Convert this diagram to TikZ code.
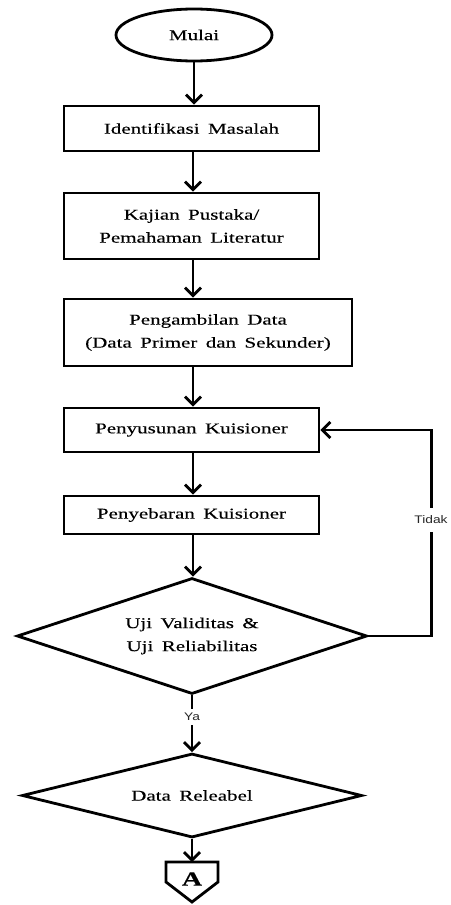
\documentclass[tikz,border=0pt]{standalone}
\usepackage{fontspec}
\setmainfont{Liberation Serif}[FakeStretch=1.4,WordSpace=1.6,FakeBold=0.3]
\newfontfamily\labelfont{Liberation Sans}[FakeStretch=1.25]
\usetikzlibrary{shapes.geometric,arrows.meta}
\begin{document}
\begin{tikzpicture}[x=1pt,y=-1pt,
  every node/.style={inner sep=0pt, font=\fontsize{15}{23}\selectfont, align=center},
  box/.style={draw, line width=2.8pt, rectangle},
  term/.style={draw, line width=2.8pt, ellipse},
  dec/.style={draw, line width=2.8pt, diamond},
  arr/.style={line width=2.8pt, -{Straight Barb[length=8pt,width=16pt,line width=2.8pt]}},
  lbl/.style={fill=white, font=\labelfont\fontsize{11}{13}\selectfont, text=black!85}
]
\useasboundingbox (0,0) rectangle (450,905);
\node[term, minimum width=156, minimum height=52] (mulai) at (194,35) {Mulai};
\node[box, minimum width=255, minimum height=45] (idm) at (191.5,128.5) {Identifikasi Masalah};
\node[box, minimum width=255, minimum height=66] (kaj) at (191.5,226) {Kajian Pustaka/\\Pemahaman Literatur};
\node[box, minimum width=288, minimum height=67] (peng) at (208,332.5) {Pengambilan Data\\(Data Primer dan Sekunder)};
\node[box, minimum width=255, minimum height=44] (pys) at (191.5,430) {Penyusunan Kuisioner};
\node[box, minimum width=255, minimum height=38] (pyb) at (191.5,515) {Penyebaran Kuisioner};
\node[dec, aspect=3.0, minimum width=350, minimum height=116] (uji) at (192,636) {Uji Validitas \&\\Uji Reliabilitas};
\node[dec, aspect=4.0, minimum width=340, minimum height=84] (rel) at (192,795.5) {Data Releabel};
\node[font=\bfseries\fontsize{20}{22}\selectfont] (A) at (192,879) {A};
\coordinate (Atop) at (192,862);
\draw[line width=2.8pt, line join=miter] (166,862) -- (218,862) -- (218,882) -- (192,902) -- (166,882) -- cycle;

\draw[arr] (mulai.south) -- (idm.north -| mulai.south);
\draw[arr] (idm.south -| 193,0) -- (kaj.north -| 193,0);
\draw[arr] (kaj.south -| 193,0) -- (peng.north -| 193,0);
\draw[arr] (peng.south -| 193,0) -- (pys.north -| 193,0);
\draw[arr] (pys.south -| 193,0) -- (pyb.north -| 193,0);
\draw[arr] (pyb.south -| 193,0) -- (uji.north -| 193,0);
\draw[arr] (uji.south) -- (rel.north) node[pos=0.38, lbl, inner xsep=1pt, inner ysep=4pt] (ya) {Ya};
\draw[arr] (rel.south) -- (Atop);
\draw[arr] (uji.east) -- ++(63,0) coordinate (fb) |- (pys.east);
\node[lbl, inner xsep=1pt, inner ysep=8pt] (tidak) at (431,520) {Tidak};
\end{tikzpicture}
\end{document}
